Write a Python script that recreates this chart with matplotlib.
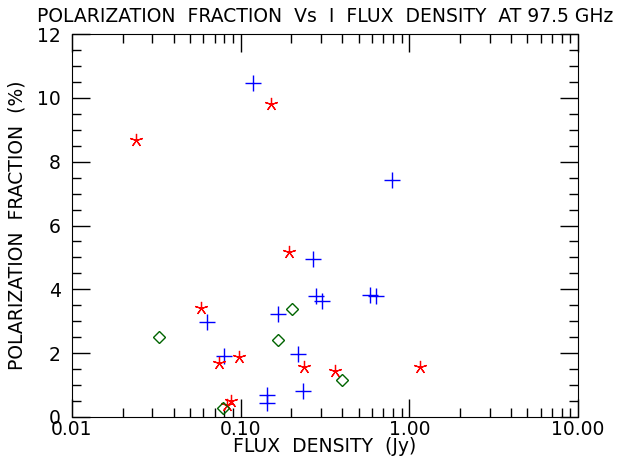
import numpy as np
import matplotlib
matplotlib.use('Agg')
import matplotlib.pyplot as plt
from matplotlib.ticker import FixedLocator, FuncFormatter, MultipleLocator

# --- dados ---
blue_x = [0.119, 0.794, 0.268, 0.279, 0.303, 0.586, 0.635, 0.167, 0.063, 0.080,
          0.218, 0.235, 0.143, 0.143]
blue_y = [10.45, 7.42, 4.96, 3.79, 3.62, 3.83, 3.80, 3.22, 2.97, 1.90,
          1.98, 0.81, 0.69, 0.45]

red_x = [0.024, 0.1515, 0.194, 0.058, 0.098, 0.0745, 0.239, 0.363, 1.159, 0.0877, 0.0827]
red_y = [8.68, 9.80, 5.18, 3.40, 1.87, 1.70, 1.57, 1.45, 1.58, 0.50, 0.39]

green_x = [0.0328, 0.201, 0.166, 0.401, 0.079]
green_y = [2.52, 3.38, 2.40, 1.17, 0.27]

xticks = [0.01, 0.1, 1.0, 10.0]
yticks = [0, 2, 4, 6, 8, 10, 12]

fs = 13.5
fig = plt.figure(figsize=(6.19, 4.59), dpi=100)
ax = fig.add_axes([72/619, 42/459, (578-72)/619, (417-34)/459])

ax.plot(blue_x, blue_y, '+', color='blue', ms=11, mew=1.0, ls='none')
ax.plot(red_x, red_y, marker=(5, 2, 0), color='red', ms=9.5, mew=0.9, ls='none')
ax.plot(green_x, green_y, 'D', mfc='none', mec='darkgreen', ms=6.5, mew=1.0, ls='none')

ax.set_xscale('log')
ax.set_xlim(0.01, 10)
ax.set_ylim(0, 12)
ax.xaxis.set_major_locator(FixedLocator(xticks))
ax.xaxis.set_major_formatter(FuncFormatter(lambda v, p: f'{v:.2f}'))
ax.yaxis.set_major_locator(FixedLocator(yticks))
ax.yaxis.set_minor_locator(MultipleLocator(0.5))

ax.tick_params(which='both', direction='in', top=True, right=True, labelsize=fs, width=1.0)
ax.tick_params(which='major', length=13)
ax.tick_params(which='minor', length=6.5)
ax.tick_params(axis='x', pad=2)
ax.tick_params(axis='y', pad=8)

ax.set_title('POLARIZATION  FRACTION  Vs  I  FLUX  DENSITY  AT 97.5 GHz', fontsize=fs, pad=9)
ax.set_xlabel('FLUX  DENSITY  (Jy)', fontsize=fs, labelpad=-1)
ax.set_ylabel('POLARIZATION  FRACTION  (%)', fontsize=fs, labelpad=8)

plt.savefig('out.png', dpi=100)
plt.close()
